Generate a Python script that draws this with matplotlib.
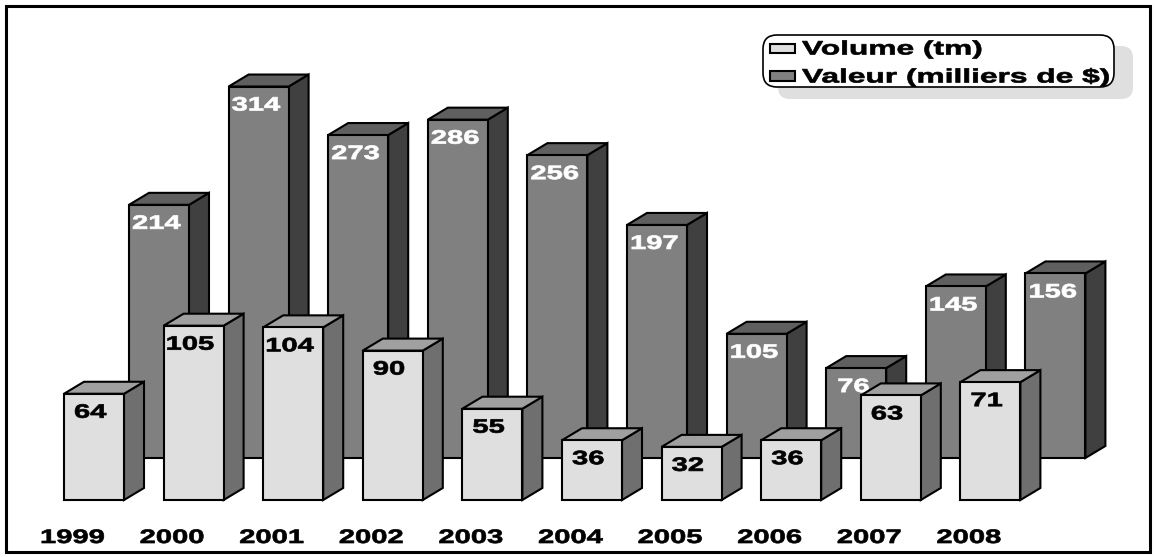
import matplotlib
matplotlib.use('Agg')
import matplotlib.pyplot as plt
from matplotlib.patches import FancyBboxPatch, Rectangle
from matplotlib.patheffects import AbstractPathEffect
from matplotlib.transforms import Affine2D

plt.rcParams['font.family'] = ['Liberation Sans', 'DejaVu Sans']
plt.rcParams['font.weight'] = 'bold'

years = ['1999', '2000', '2001', '2002', '2003', '2004', '2005', '2006', '2007', '2008']
volume = [64, 105, 104, 90, 55, 36, 32, 36, 63, 71]
valeur = [214, 314, 273, 286, 256, 197, 105, 76, 145, 156]

W, H = 1156, 557
STEP = 99.6
BAR_W = 60
DX, DY = 20, 12
LW = 1.5
FS = 14
CHAR_W = 16


class WideText(AbstractPathEffect):
    # the original font is stretched sideways and a bit heavier
    def __init__(self, stretch=1.5):
        super().__init__()
        self.stretch = stretch

    def draw_path(self, renderer, gc, tpath, affine, rgbFace=None):
        gc0 = renderer.new_gc()
        gc0.copy_properties(gc)
        gc0.set_linewidth(0.5)
        gc0.set_foreground(rgbFace)
        renderer.draw_path(gc0, tpath, Affine2D().scale(self.stretch, 1) + affine, rgbFace)
        gc0.restore()


def make_axes(fig, center0, base_y, scale):
    # full figure axes, category 0 at pixel center0, value 0 at pixel row base_y
    ax = fig.add_axes([0, 0, 1, 1])
    ax.set_xlim(-center0 / STEP, (W - center0) / STEP)
    ax.set_ylim(-(H - base_y) / scale, base_y / scale)
    ax.axis('off')
    return ax


def draw_bars(ax, values, scale, face, top, side, txt_color, txt_shift, txt_drop):
    w = BAR_W / STEP
    dx = DX / STEP
    dy = DY / scale
    for i, v in enumerate(values):
        l, r = i - w / 2, i + w / 2
        ax.fill([r, r + dx, r + dx, r], [0, dy, v + dy, v], fc=side, ec='black', lw=LW)
        ax.fill([l, l + dx, r + dx, r], [v, v + dy, v + dy, v], fc=top, ec='black', lw=LW)
        ax.bar(i, v, width=w, color=face, edgecolor='black', linewidth=LW)
        label = str(v)
        off = (txt_shift - len(label) * CHAR_W / 2) * 0.72
        ax.annotate(label, (i, v), xytext=(off, -txt_drop * 0.72), textcoords='offset points',
                    ha='left', va='center', fontsize=FS, color=txt_color,
                    path_effects=[WideText()])


fig = plt.figure(figsize=(W / 100, H / 100), dpi=100)

ax_back = make_axes(fig, 159, 458, 1.183)
draw_bars(ax_back, valeur, 1.183, '#808080', '#5f5f5f', '#404040', 'white', -3, 19.5)

ax_front = make_axes(fig, 94, 500, 1.66)
draw_bars(ax_front, volume, 1.66, '#dfdfdf', '#a0a0a0', '#6f6f6f', 'black', -4, 19.5)

# year labels sit to the left of their bars
for i, year in enumerate(years):
    ax_front.annotate(year, (i, 0), xytext=(-54 * 0.72, -38.5 * 0.72), textcoords='offset points',
                      ha='left', va='center', fontsize=FS, path_effects=[WideText()])

# pixel axes for frame and legend
ax = fig.add_axes([0, 0, 1, 1])
ax.set_xlim(0, W)
ax.set_ylim(H, 0)
ax.axis('off')

ax.add_patch(Rectangle((6, 6), 1144, 546, fc='none', ec='black', lw=2.2))

ax.add_patch(FancyBboxPatch((778, 46), 355, 53, boxstyle='round,pad=0,rounding_size=12',
                            fc='#dfdfdf', ec='none'))
ax.add_patch(FancyBboxPatch((763, 35), 351, 52, boxstyle='round,pad=0,rounding_size=14',
                            fc='white', ec='black', lw=1.2))
ax.add_patch(Rectangle((770, 44), 25, 9, fc='#dfdfdf', ec='black', lw=1.5))
ax.add_patch(Rectangle((770, 71), 25, 10, fc='#808080', ec='black', lw=1.5))
ax.text(802, 50, 'Volume (tm)', ha='left', va='center', fontsize=FS, path_effects=[WideText(1.63)])
ax.text(802, 78, 'Valeur (milliers de $)', ha='left', va='center', fontsize=FS, path_effects=[WideText(1.63)])

fig.savefig('out.png', dpi=100)
plt.close()
